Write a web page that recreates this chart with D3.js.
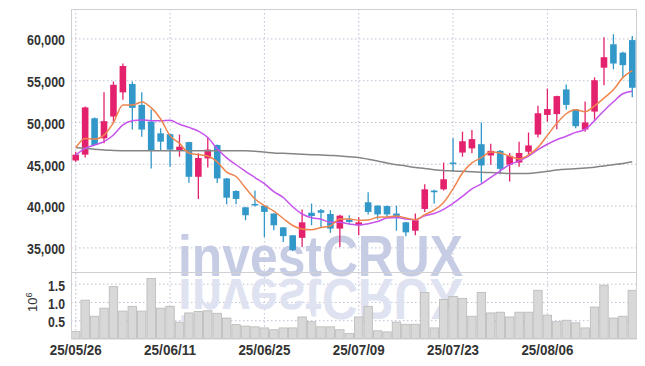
<!DOCTYPE html>
<html>
<head>
<meta charset="utf-8">
<script src="https://cdn.jsdelivr.net/npm/d3@7"></script>
<style>
  html, body { margin: 0; padding: 0; background: #fff; }
  svg { display: block; }
  .lbl { font-family: 'Liberation Sans', Arial, sans-serif; font-weight: bold; fill: #333; }
  .grid line { stroke: #bcc0d6; stroke-dasharray: 1.5 2.5; }
  .grid .domain { display: none; }
</style>
</head>
<body>
<div id="chart"></div>
<script>
const dates = [
  '25/05/26','25/05/27','25/05/28','25/05/29','25/05/30','25/06/02','25/06/04','25/06/05','25/06/09','25/06/10',
  '25/06/11','25/06/12','25/06/13','25/06/16','25/06/17','25/06/18','25/06/19','25/06/20','25/06/23','25/06/24',
  '25/06/25','25/06/26','25/06/27','25/06/30','25/07/01','25/07/02','25/07/03','25/07/04','25/07/07','25/07/08',
  '25/07/09','25/07/10','25/07/11','25/07/14','25/07/15','25/07/16','25/07/17','25/07/18','25/07/21','25/07/22',
  '25/07/23','25/07/24','25/07/25','25/07/28','25/07/29','25/07/30','25/07/31','25/08/01','25/08/04','25/08/05',
  '25/08/06','25/08/07','25/08/08','25/08/11','25/08/12','25/08/13','25/08/14','25/08/18','25/08/19','25/08/20'
]

const open = [
  45400, 46100, 50450, 48050, 50650, 53550, 54550, 52050, 50050, 48650,
  48550, 46550, 47600, 43450, 45650, 47250, 43250, 41750, 39800, 40200,
  40000, 39050, 37400, 36450, 36150, 39150, 39450, 39000, 37250, 38350,
  37650, 40400, 40000, 39950, 39050, 38000, 37000, 39600, 41800, 41950,
  45150, 46350, 46850, 47350, 46000, 46550, 44900, 45150, 46450, 48500,
  50850, 50950, 53900, 51500, 49100, 51250, 56500, 59300, 58300, 59800
]
const high = [
  46450, 51850, 50550, 53550, 54850, 57000, 54850, 53550, 51500, 49250,
  48600, 48500, 47650, 46250, 48150, 47300, 43300, 41850, 39850, 41800,
  40050, 39100, 37450, 36500, 39550, 40250, 39600, 39450, 38900, 38850,
  38600, 41600, 40050, 40000, 40000, 38050, 39050, 42550, 41900, 45150,
  48050, 48850, 49050, 49950, 47400, 46650, 46300, 47650, 48750, 51950,
  54000, 53150, 54500, 51550, 52450, 55350, 60150, 60500, 58400, 60300
]
const low = [
  45250, 45750, 47200, 47450, 49850, 52650, 49100, 48250, 44450, 46650,
  44650, 45850, 42750, 40800, 44550, 42700, 40150, 40150, 38250, 39900,
  36250, 37050, 35650, 34550, 35050, 37650, 37450, 36750, 35050, 37850,
  36450, 38950, 38350, 38600, 37000, 36350, 36450, 39250, 40250, 41800,
  44050, 45850, 46250, 42750, 44900, 43750, 42900, 44650, 46050, 48150,
  50050, 49150, 51500, 49250, 48850, 50300, 54400, 56300, 55400, 52950
]
const close = [
  46100, 51750, 47250, 50100, 54450, 56700, 51700, 49100, 46650, 47650,
  46700, 47050, 43450, 45700, 46700, 43250, 40950, 40800, 38850, 40150,
  39250, 37650, 36350, 34700, 38000, 38750, 39150, 37250, 38800, 38050,
  38000, 39250, 38950, 38950, 38650, 36800, 38250, 41950, 41600, 43150,
  45050, 47700, 47950, 44800, 46550, 44400, 45950, 46300, 47200, 51050,
  51550, 53100, 52050, 49500, 49950, 55000, 57750, 57000, 56800, 54100
]
// volume in millions of shares
const volume = [
  0.19, 1.05, 0.61, 0.83, 1.42, 0.75, 0.88, 0.75, 1.64, 0.83,
  0.88, 0.45, 0.70, 0.74, 0.76, 0.69, 0.56, 0.38, 0.34, 0.32,
  0.29, 0.24, 0.29, 0.29, 0.59, 0.46, 0.32, 0.32, 0.24, 0.14,
  0.59, 0.88, 0.21, 0.18, 0.45, 0.39, 0.39, 1.26, 0.29, 1.07,
  1.15, 1.10, 0.61, 1.26, 0.70, 0.72, 0.59, 0.72, 0.72, 1.32,
  0.64, 0.46, 0.50, 0.43, 0.29, 0.86, 1.46, 0.56, 0.61, 1.32
]
const ma5 = [
  46920, 48040, 47960, 48440, 49920, 52040, 52030, 52410, 51720, 50360,
  48370, 47440, 46300, 46110, 45930, 45230, 44010, 43480, 42110, 40800,
  40000, 39350, 38460, 37620, 37200, 37100, 37390, 37570, 38400, 38400,
  38250, 38280, 38610, 38640, 38760, 38520, 38320, 38920, 39460, 40360,
  42010, 43900, 45110, 45740, 46410, 46290, 45930, 45590, 46070, 46970,
  48400, 49840, 50990, 51460, 51240, 51930, 52860, 53850, 55310, 56140
]
const ma10 = [
  46050, 46850, 47250, 47650, 48450, 49650, 50150, 50250, 50150, 50140,
  50210, 49730, 49360, 48920, 48150, 46800, 45720, 44890, 44110, 43360,
  42620, 41680, 40970, 39870, 39000, 38550, 38370, 38020, 38010, 37800,
  37670, 37830, 38090, 38520, 38580, 38390, 38300, 38770, 39050, 39560,
  40270, 41110, 42010, 42600, 43390, 44150, 44910, 45350, 45910, 46690,
  47340, 47880, 48290, 48760, 49110, 50170, 51350, 52420, 53380, 53690
]
const ma60 = [
  46950, 46850, 46750, 46650, 46600, 46560, 46550, 46550, 46550, 46550,
  46550, 46550, 46560, 46560, 46560, 46560, 46550, 46550, 46550, 46500,
  46400, 46300, 46250, 46200, 46150, 46100, 46050, 46000, 45950, 45850,
  45750, 45550, 45350, 45100, 44900, 44750, 44550, 44450, 44300, 44200,
  44150, 44100, 44050, 44000, 43950, 43900, 43850, 43850, 43850, 43950,
  44100, 44250, 44350, 44400, 44500, 44600, 44750, 44900, 45050, 45250
]
const priceTicks = [35000, 40000, 45000, 50000, 55000, 60000]
const volumeTicks = [0.5, 1.0, 1.5]
const dateTicks = ['25/05/26', '25/06/11', '25/06/25', '25/07/09', '25/07/23', '25/08/06']

const UP = '#e3216c'
const DOWN = '#3298c9'

const width = 645
const height = 366
const left = 71
const right = 637
const priceTop = 9
const priceBottom = 272
const volBottom = 338.5

const rows = dates.map((d, i) => ({
  date: d, o: open[i], h: high[i], l: low[i], c: close[i], v: volume[i],
}))

const svg = d3.select('#chart').append('svg').attr('width', width).attr('height', height)

const defs = svg.append('defs')
const grad = defs.append('linearGradient').attr('id', 'refl')
  .attr('gradientUnits', 'userSpaceOnUse').attr('x1', 0).attr('x2', 0).attr('y1', 278).attr('y2', 322)
grad.append('stop').attr('offset', 0).attr('stop-color', '#dfe2f0')
grad.append('stop').attr('offset', 1).attr('stop-color', '#f4f5fa')

const x = d3.scaleBand().domain(dates).range([left, right]).padding(0)
const cx = (d) => x(d) + x.bandwidth() / 2

const y = d3.scaleLinear().domain([32060, 63520]).range([priceBottom, priceTop])
const yv = d3.scaleLinear().domain([0, 1.82]).range([volBottom, priceBottom])

// grid
svg.append('g').attr('class', 'grid')
  .attr('transform', `translate(${left},0)`)
  .call(d3.axisLeft(y).tickValues(priceTicks).tickSize(-(right - left)).tickFormat(''))
svg.append('g').attr('class', 'grid')
  .attr('transform', `translate(${left},0)`)
  .call(d3.axisLeft(yv).tickValues(volumeTicks).tickSize(-(right - left)).tickFormat(''))
svg.append('g').attr('class', 'grid')
  .attr('transform', `translate(0,${volBottom})`)
  .call(d3.axisBottom(x).tickValues(dateTicks).tickSize(-(volBottom - priceTop)).tickFormat(''))

// watermark + its mirror image
const wm = svg.append('g').style('font-family', "'Liberation Sans', Arial, sans-serif")
  .style('font-weight', 'bold').style('font-size', '58px')
wm.append('text')
  .attr('x', 178).attr('y', 276)
  .attr('textLength', 285).attr('lengthAdjust', 'spacingAndGlyphs')
  .attr('fill', '#c7cce5')
  .text('investCRUX')
wm.append('text')
  .attr('x', 178).attr('y', 276)
  .attr('transform', 'translate(0,555) scale(1,-1)')
  .attr('textLength', 285).attr('lengthAdjust', 'spacingAndGlyphs')
  .attr('fill', 'url(#refl)')
  .text('investCRUX')

// volume bars
svg.append('g').selectAll('rect').data(rows).join('rect')
  .attr('x', (d) => x(d.date) + 0.5)
  .attr('width', x.bandwidth() - 1)
  .attr('y', (d) => yv(d.v))
  .attr('height', (d) => yv(0) - yv(d.v))
  .attr('fill', '#d8d8d8')
  .attr('stroke', '#b9b9b9')
  .attr('stroke-width', 0.8)

// candles
const candles = svg.append('g').selectAll('g').data(rows).join('g')
candles.append('line')
  .attr('x1', (d) => cx(d.date)).attr('x2', (d) => cx(d.date))
  .attr('y1', (d) => y(d.h)).attr('y2', (d) => y(d.l))
  .attr('stroke', (d) => (d.c >= d.o ? UP : DOWN))
  .attr('stroke-width', 1.3)
candles.append('rect')
  .attr('x', (d) => cx(d.date) - 3.3)
  .attr('width', 6.6)
  .attr('y', (d) => y(Math.max(d.o, d.c)))
  .attr('height', (d) => Math.max(1.5, Math.abs(y(d.o) - y(d.c))))
  .attr('fill', (d) => (d.c >= d.o ? UP : DOWN))

// moving averages
const line = (arr) => d3.line().x((_, i) => cx(dates[i])).y((v) => y(v)).curve(d3.curveMonotoneX)(arr)
svg.append('path').attr('d', line(ma60)).attr('fill', 'none').attr('stroke', '#858585').attr('stroke-width', 1.5)
svg.append('path').attr('d', line(ma10)).attr('fill', 'none').attr('stroke', '#c653ec').attr('stroke-width', 1.5)
svg.append('path').attr('d', line(ma5)).attr('fill', 'none').attr('stroke', '#f0854d').attr('stroke-width', 1.5)

// frame
const frame = svg.append('g').attr('stroke', '#cfcfd4').attr('stroke-width', 1).attr('fill', 'none')
frame.append('rect').attr('x', left + 0.5).attr('y', priceTop + 0.5).attr('width', right - left - 1).attr('height', volBottom - priceTop)
frame.append('line').attr('x1', left).attr('x2', right).attr('y1', priceBottom + 0.5).attr('y2', priceBottom + 0.5)

// axis labels
const yAxis = svg.append('g').attr('transform', `translate(${left},1.5)`)
  .call(d3.axisLeft(y).tickValues(priceTicks).tickSize(0).tickPadding(6).tickFormat(d3.format(',')))
const vAxis = svg.append('g').attr('transform', `translate(${left},1.5)`)
  .call(d3.axisLeft(yv).tickValues(volumeTicks).tickSize(0).tickPadding(6).tickFormat(d3.format('.1f')))
const xAxis = svg.append('g').attr('transform', `translate(0,${volBottom})`)
  .call(d3.axisBottom(x).tickValues(dateTicks).tickSize(0).tickPadding(6))

for (const g of [yAxis, vAxis, xAxis]) {
  g.select('.domain').remove()
  g.selectAll('text').attr('class', 'lbl').attr('font-family', null).attr('fill', null)
    .style('font-size', '15px').attr('lengthAdjust', 'spacingAndGlyphs')
}
yAxis.selectAll('text').attr('textLength', 38)
vAxis.selectAll('text').attr('textLength', 17)
xAxis.selectAll('text').attr('textLength', 52)

// 10^6 unit label
const unit = svg.append('text').attr('class', 'lbl')
  .attr('transform', 'translate(37,312) rotate(-90)')
  .style('font-size', '13px').style('font-weight', 'normal')
unit.append('tspan').text('10')
unit.append('tspan').attr('dy', -5).style('font-size', '9px').text('6')
</script>
</body>
</html>
